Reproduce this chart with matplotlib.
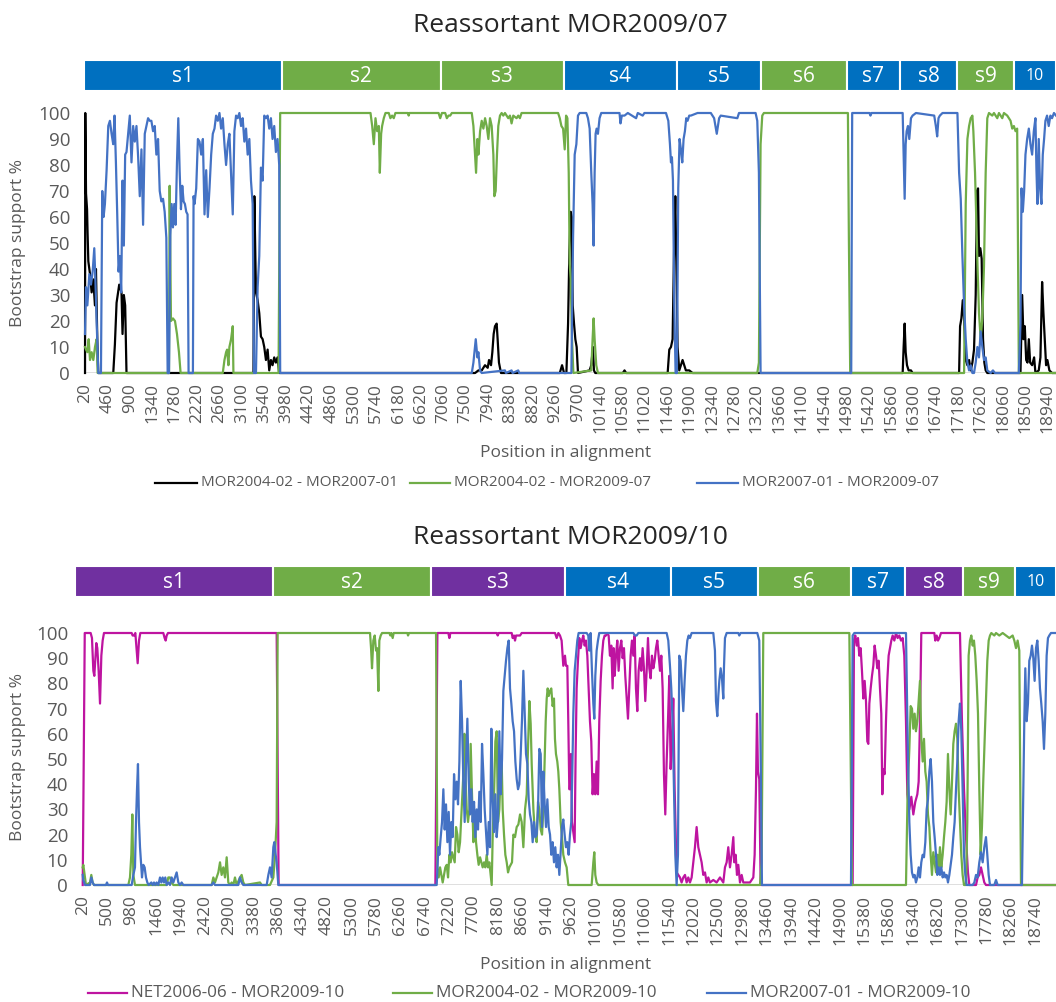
import matplotlib
matplotlib.use("Agg")
import matplotlib.pyplot as plt
from matplotlib.patches import Rectangle
from matplotlib.lines import Line2D

plt.rcParams['font.family'] = ['Open Sans', 'DejaVu Sans']

# ---------------- data: chart 1 (Reassortant MOR2009/07) ----------------
top_title = "Reassortant MOR2009/07"
top_ticks = list(range(20, 19000, 440))
top_seg_edges = [0, 3895, 7006, 9433, 11645, 13308, 14991, 16028, 17163, 18279, 19100]
top_seg_labels = ['s1', 's2', 's3', 's4', 's5', 's6', 's7', 's8', 's9', '10']
top_seg_groups = ['B', 'G', 'G', 'B', 'B', 'G', 'B', 'B', 'G', 'B']
top_names = ['MOR2004-02 - MOR2007-01', 'MOR2004-02 - MOR2009-07', 'MOR2007-01 - MOR2009-07']

top_black = [(20,0),(25,100),(40,69),(60,63),(70,54),(85,43),(118,38),(150,31),(183,36),(215,26),(235,40),(261,13),(280,0),
 (575,0),(607,11),(640,27),(692,34),(737,31),(757,15),(783,30),(809,26),(835,0),
 (3330,0),(3347,68),(3379,31),(3412,28),(3444,23),(3477,14),(3510,13),(3542,10),(3575,5),(3608,9),(3640,1),(3673,5),(3705,3),(3738,6),(3771,4),(3803,6),(3836,0),
 (7685,0),(7750,1),(7815,1),(7880,3),(7933,2),(7959,5),(7998,3),(8024,8),(8050,15),(8076,18),(8109,19),(8128,13),(8154,4),(8194,0),
 (9349,0),(9394,3),(9433,0),(9479,0),(9512,19),(9538,47),(9564,62),(9583,60),(9603,26),(9629,19),(9655,13),(9681,10),(9707,0),
 (9936,1),(9968,3),(10001,10),(10020,1),(10047,0),(10588,0),(10621,1),(10653,0),
 (11469,0),(11501,9),(11534,10),(11566,13),(11599,52),(11619,68),(11638,45),(11664,10),(11697,1),(11730,3),(11762,5),(11795,3),(11827,1),(11893,1),(11958,0),
 (16087,0),(16106,10),(16126,19),(16146,8),(16172,3),(16204,1),(16250,1),(16282,0),
 (17196,0),(17215,18),(17241,21),(17268,28),(17294,21),(17326,5),(17359,3),(17392,5),(17424,1),(17457,4),(17489,9),(17522,30),(17548,70),(17568,71),(17587,45),(17613,48),(17639,44),(17666,13),(17692,4),(17718,1),(17750,0),
 (18402,0),(18435,30),(18461,13),(18487,18),(18514,5),(18540,4),(18566,13),(18592,4),(18631,3),(18670,6),(18696,0),(18761,1),(18794,6),(18827,35),(18853,23),(18879,13),(18905,3),(18931,5),(18970,1),(19022,0),(19100,0)]

top_green = [(20,10),(40,9),(66,8),(92,13),(118,5),(150,8),(183,5),(216,10),(248,13),(268,0),
 (1670,0),(1683,72),(1709,20),(1748,21),(1788,20),(1827,15),(1866,8),(1898,0),
 (2727,0),(2760,5),(2792,8),(2812,9),(2838,3),(2857,10),(2890,13),(2923,18),(2936,0),
 (3823,0),(3855,100),(5630,100),(5663,95),(5695,88),(5728,98),(5760,93),(5793,95),(5813,77),(5839,92),(5858,95),(5891,98),(5924,100),(5989,100),(6021,98),(6054,99),(6087,98),(6119,100),(6367,100),(6380,99),(6393,100),(6967,100),(7000,98),(7033,100),(7098,100),(7130,98),(7163,99),(7196,99),(7228,100),
 (7620,100),(7652,95),(7685,84),(7704,77),(7730,90),(7750,84),(7783,93),(7815,97),(7848,94),(7881,98),(7913,95),(7946,90),(7978,98),(8011,95),(8044,84),(8063,68),(8089,70),(8115,84),(8141,95),(8174,99),(8207,100),(8239,99),(8272,100),(8337,98),(8370,99),(8402,96),(8435,99),(8500,98),(8533,99),(8565,98),(8598,100),
 (9316,100),(9349,98),(9381,95),(9414,94),(9446,86),(9473,99),(9499,98),(9525,77),(9544,42),(9564,36),(9590,13),(9616,0),
 (9968,1),(9994,13),(10014,21),(10034,13),(10066,3),(10099,0),
 (13230,0),(13262,4),(13295,88),(13328,99),(13360,100),
 (15011,100),(15030,52),(15056,0),
 (17294,0),(17326,65),(17359,90),(17392,95),(17424,98),(17457,99),(17476,93),(17509,77),(17535,58),(17561,39),(17587,23),(17620,13),(17652,21),(17685,41),(17718,77),(17750,98),(17783,100),(17848,99),(17881,100),(17946,98),(17979,100),(18044,98),(18077,100),(18142,99),(18207,97),(18240,94),(18272,95),(18305,93),(18337,94),(18370,0),(19100,0)]

top_blue = [(20,15),(39,33),(66,26),(105,38),(137,34),(170,39),(202,48),(222,37),(248,20),(281,0),(333,0),(359,70),(385,60),(411,65),(444,78),(477,95),(509,97),(542,92),(574,88),(600,99),(627,81),(653,61),(679,39),(705,45),(731,31),(757,74),(783,49),(809,84),(835,85),(868,92),(900,99),(933,81),(966,95),(998,89),(1031,95),(1064,83),(1096,68),(1129,86),(1161,57),(1194,92),(1227,95),(1259,98),(1292,97),(1324,97),(1357,93),(1390,95),(1422,84),(1455,90),(1488,70),(1520,66),(1553,67),(1585,62),(1618,52),(1644,0),(1670,0),(1696,53),(1722,65),(1748,56),(1774,65),(1800,57),(1827,81),(1853,98),(1879,78),(1905,63),(1931,72),(1957,66),(1983,65),(2009,62),(2035,61),(2055,0),(2140,0),(2153,68),(2172,65),(2205,71),(2238,90),(2270,89),(2303,84),(2336,90),(2368,61),(2401,78),(2433,60),(2466,71),(2499,84),(2531,92),(2564,94),(2596,99),(2629,97),(2662,100),(2694,94),(2727,98),(2760,88),(2792,80),(2825,88),(2857,92),(2890,76),(2923,61),(2955,93),(2988,99),(3020,98),(3053,100),(3086,95),(3118,98),(3151,89),(3184,94),(3216,84),(3249,90),(3281,74),(3314,65),(3340,0),(3379,0),(3412,33),(3444,45),(3477,79),(3510,74),(3542,99),(3575,98),(3608,99),(3640,94),(3673,98),(3705,90),(3738,95),(3771,85),(3803,90),(3836,80),(3855,0),
 (7620,0),(7652,4),(7698,13),(7730,6),(7750,8),(7783,1),(7815,0),(8272,1),(8291,0),(8402,1),(8422,0),(8533,1),(8552,0),
 (9577,0),(9610,52),(9642,84),(9675,88),(9707,99),(9740,100),(9870,100),(9903,98),(9936,94),(9968,77),(9994,65),(10014,49),(10034,77),(10053,92),(10073,94),(10099,92),(10131,98),(10164,100),(10523,100),(10542,96),(10568,99),(10621,99),(10686,100),(10849,98),(10882,100),(10979,99),(11012,100),(11436,100),(11482,97),(11514,88),(11534,81),(11553,83),(11573,74),(11599,26),(11625,0),(11651,0),(11677,71),(11703,90),(11730,86),(11756,81),(11782,90),(11808,93),(11834,98),(11860,97),(11893,99),(11925,99),(12056,100),(12317,100),(12382,98),(12434,92),(12480,98),(12512,99),(12838,98),(12871,100),(13197,100),(13230,97),(13262,77),(13295,0),
 (15076,0),(15095,100),(15435,100),(15454,99),(15474,100),(16087,100),(16106,84),(16126,67),(16146,88),(16165,93),(16191,95),(16217,90),(16250,98),(16282,99),(16348,100),(16707,99),(16739,95),(16765,91),(16791,98),(16818,99),(16870,100),(17163,100),(17196,77),(17228,67),(17261,45),(17294,26),(17326,13),(17359,4),(17392,1),(17424,3),(17457,0),(17489,0),(17522,4),(17555,10),(17587,6),(17620,16),(17652,10),(17685,5),(17718,6),(17750,1),(17816,0),(17861,1),(17900,0),
 (18370,0),(18402,19),(18422,71),(18448,62),(18474,70),(18500,84),(18533,90),(18566,94),(18598,88),(18631,84),(18664,93),(18696,98),(18716,78),(18735,65),(18761,90),(18787,71),(18814,65),(18840,84),(18866,90),(18892,97),(18924,99),(18957,95),(18990,99),(19022,98),(19060,100),(19100,99)]

# ---------------- data: chart 2 (Reassortant MOR2009/10) ----------------
bot_title = "Reassortant MOR2009/10"
bot_ticks = list(range(20, 19000, 480))
bot_seg_edges = [-131, 3767, 6864, 9499, 11576, 13282, 15117, 16184, 17326, 18334, 19146]
bot_seg_labels = ['s1', 's2', 's3', 's4', 's5', 's6', 's7', 's8', 's9', '10']
bot_seg_groups = ['P', 'G', 'P', 'B', 'B', 'G', 'B', 'P', 'G', 'B']
bot_names = ['NET2006-06 - MOR2009-10', 'MOR2004-02 - MOR2009-10', 'MOR2007-01 - MOR2009-10']

bot_pink = [(20,0),(40,50),(60,100),(176,100),(202,98),(229,85),(248,83),(268,90),(287,96),(307,94),(333,85),(360,72),(386,91),(412,97),(438,100),(982,100),(1001,99),(1028,99),(1054,100),(1080,93),(1100,88),(1126,97),(1152,100),(1604,100),(1630,98),(1650,97),(1670,99),(1696,100),(3831,100),(3870,0),
 (6950,0),(6990,100),(7205,100),(7225,98),(7245,100),(8155,100),(8175,99),(8194,100),(8450,100),(8469,98),(8496,99),(8515,97),(8535,99),(8581,99),(8614,99),(8646,100),(9301,100),(9334,98),(9367,100),
 (9399,99),(9431,97),(9464,87),(9497,91),(9516,87),(9543,87),(9562,65),(9582,38),(9595,38),(9615,52),(9634,25),(9661,21),(9687,17),(9706,52),(9726,78),(9752,89),(9778,98),(9805,94),(9831,97),(9857,99),(9883,95),(9909,97),(9936,91),(9962,78),(9988,65),(10014,57),(10040,36),(10067,44),(10093,36),(10119,49),(10145,36),(10171,65),(10198,81),(10224,91),(10250,97),(10276,99),(10302,99),(10329,100),(10355,99),(10381,91),(10407,95),(10433,78),(10453,94),(10473,83),(10499,91),(10525,97),(10551,85),(10578,94),(10604,97),(10630,90),(10656,94),(10682,83),(10709,74),(10735,66),(10761,78),(10787,91),(10813,97),(10840,91),(10866,99),(10892,78),(10918,69),(10944,85),(10971,90),(10997,85),(11023,94),(11049,86),(11075,73),(11102,85),(11128,98),(11154,86),(11180,82),(11206,91),(11233,86),(11259,89),(11285,94),(11311,97),(11337,91),(11364,85),(11390,91),(11416,78),(11442,44),(11468,28),(11495,49),(11521,65),(11547,83),(11573,46),(11599,56),(11625,74),(11652,38),(11691,5),(11724,4),(11757,3),(11789,1),(11822,3),(11855,4),(11888,1),(11920,3),(11953,1),(11986,3),(12019,9),(12051,15),(12084,23),(12117,15),(12150,12),(12182,9),(12215,4),(12248,5),(12281,1),(12313,3),(12346,1),(12412,2),(12477,1),(12543,3),(12608,1),(12641,7),(12674,9),(12706,15),(12739,7),(12772,12),(12805,19),(12824,9),(12851,12),(12877,4),(12903,8),(12936,1),(12969,4),(13001,1),(13067,1),(13132,1),(13198,3),(13224,12),(13250,38),(13270,68),(13289,45),(13315,42),(13342,0),
 (15150,0),(15176,97),(15202,99),(15229,95),(15255,98),(15281,91),(15307,94),(15333,85),(15360,74),(15386,81),(15412,73),(15438,57),(15458,56),(15478,72),(15504,78),(15530,83),(15556,87),(15582,95),(15609,91),(15635,86),(15661,89),(15687,78),(15713,68),(15733,36),(15753,46),(15779,44),(15805,65),(15831,81),(15857,91),(15884,94),(15910,97),(15936,99),(15969,97),(16002,100),(16034,98),(16067,99),(16100,97),(16133,98),(16165,91),(16198,65),(16224,36),(16264,30),(16303,35),(16342,28),(16381,33),(16421,36),(16447,41),(16473,65),(16499,100),(16755,100),(16774,97),(16801,99),(16827,97),(16853,98),(16886,100),(17259,100),(17298,65),(17338,38),(17377,19),(17416,5),(17443,0),(17574,0),(17606,3),(17639,4),(17672,7),(17705,4),(17737,1),(17770,0),(19146,0)]

bot_green = [(20,7),(32,8),(58,4),(84,0),(163,1),(189,4),(215,1),(242,0),(916,0),(949,3),(975,12),(995,28),(1015,4),(1047,0),(1670,0),(1702,3),(1735,3),(1768,1),(1801,0),(2554,0),(2587,3),(2619,1),(2652,3),(2685,5),(2718,9),(2750,4),(2783,7),(2816,3),(2849,11),(2881,1),(2914,0),(2947,1),(2980,0),(3012,3),(3045,0),(3111,3),(3143,4),(3176,1),(3209,0),(3504,1),(3537,0),(3700,0),(3766,3),(3799,12),(3831,25),(3851,100),
 (5666,100),(5686,94),(5705,86),(5731,97),(5758,99),(5784,93),(5804,94),(5830,77),(5849,97),(5876,99),(5902,100),(6046,100),(6066,99),(6085,100),(6111,98),(6131,100),(6400,100),(6413,99),(6432,100),(6963,100),
 (6989,7),(7015,3),(7042,7),(7068,4),(7094,1),(7120,4),(7146,7),(7173,8),(7199,3),(7225,12),(7251,9),(7277,13),(7304,11),(7330,9),(7356,23),(7382,20),(7408,13),(7435,17),(7467,30),(7500,44),(7520,60),(7539,45),(7566,30),(7592,25),(7618,30),(7644,56),(7670,36),(7697,17),(7723,28),(7749,17),(7775,12),(7801,8),(7828,11),(7854,9),(7880,7),(7906,9),(7932,7),(7959,12),(7985,7),(8011,9),(8037,4),(8057,0),(8076,19),(8103,36),(8129,57),(8155,61),(8181,25),(8207,30),(8234,45),(8253,49),(8273,30),(8299,20),(8325,12),(8352,9),(8378,5),(8404,7),(8430,8),(8456,9),(8483,20),(8515,19),(8548,23),(8581,24),(8614,28),(8646,25),(8679,15),(8712,30),(8745,36),(8777,58),(8797,73),(8823,64),(8843,48),(8876,30),(8908,20),(8941,17),(8967,33),(8993,30),(9020,22),(9046,20),(9072,30),(9098,49),(9118,65),(9138,74),(9157,78),(9177,75),(9203,77),(9228,78),(9254,71),(9281,74),(9300,58),(9320,52),(9346,49),(9366,45),(9386,38),(9412,25),(9438,19),(9464,12),(9497,9),(9530,7),(9562,0),
 (10021,0),(10054,9),(10073,13),(10093,4),(10119,1),(10152,0),(13329,0),(13361,9),(13394,100),(15085,100),(15137,0),
 (16198,0),(16231,38),(16264,54),(16290,71),(16316,70),(16342,62),(16368,68),(16394,61),(16421,65),(16447,73),(16473,81),(16499,58),(16526,49),(16552,58),(16578,45),(16604,41),(16630,28),(16657,23),(16683,12),(16709,4),(16735,13),(16761,9),(16788,5),(16814,12),(16840,7),(16866,15),(16892,7),(16919,12),(16945,19),(16971,25),(16997,33),(17023,52),(17050,38),(17076,28),(17102,41),(17128,56),(17154,61),(17181,64),(17207,58),(17233,38),(17259,25),(17285,12),(17311,4),(17338,0),(17377,0),(17403,25),(17429,91),(17456,97),(17482,99),(17508,95),(17534,97),(17560,91),(17587,81),(17613,68),(17639,38),(17665,12),(17691,23),(17718,42),(17744,58),(17770,75),(17796,89),(17823,97),(17849,99),(17875,100),(17934,99),(17967,100),(18032,99),(18098,100),(18163,99),(18229,98),(18294,99),(18327,97),(18360,94),(18392,97),(18425,93),(18458,0),(19146,0)]

bot_blue = [(20,4),(32,2),(65,0),(163,0),(189,3),(215,1),(242,0),(477,0),(497,1),(517,0),(982,0),(1015,4),(1047,7),(1067,25),(1087,38),(1106,48),(1126,25),(1146,15),(1165,9),(1185,3),(1211,8),(1237,7),(1263,3),(1290,1),(1316,0),(1368,1),(1394,0),(1421,1),(1447,0),(1473,1),(1506,0),(1539,3),(1565,1),(1591,3),(1617,1),(1643,3),(1670,0),(1702,1),(1735,0),(1768,3),(1801,1),(1833,3),(1866,5),(1899,1),(1932,0),(1964,1),(1997,0),(2554,0),(2587,1),(2619,0),(3078,0),(3111,3),(3143,1),(3176,0),(3635,0),(3668,4),(3700,7),(3733,3),(3766,15),(3785,17),(3812,12),(3831,9),(3864,0),
 (6976,0),(7009,15),(7028,12),(7055,19),(7081,25),(7107,38),(7133,22),(7159,32),(7186,17),(7212,29),(7238,12),(7264,25),(7290,19),(7317,44),(7343,34),(7369,41),(7395,32),(7422,49),(7448,81),(7474,65),(7500,41),(7526,25),(7552,48),(7579,66),(7605,42),(7631,28),(7657,38),(7683,25),(7710,33),(7736,19),(7762,30),(7788,22),(7814,37),(7841,25),(7867,56),(7893,44),(7919,30),(7945,21),(7972,12),(7998,25),(8024,15),(8050,62),(8076,34),(8103,21),(8129,36),(8155,19),(8181,26),(8207,61),(8234,36),(8260,50),(8286,77),(8312,83),(8338,89),(8365,94),(8391,97),(8417,78),(8443,72),(8469,65),(8496,61),(8522,49),(8548,42),(8574,38),(8600,40),(8627,52),(8653,66),(8679,85),(8705,68),(8731,52),(8758,48),(8784,34),(8810,28),(8836,25),(8862,17),(8889,25),(8915,19),(8941,20),(8967,30),(8993,54),(9020,52),(9046,23),(9072,45),(9098,32),(9124,23),(9151,34),(9177,23),(9203,20),(9228,12),(9254,17),(9281,9),(9307,15),(9333,7),(9359,12),(9386,4),(9412,13),(9438,23),(9464,26),(9490,20),(9516,15),(9543,17),(9569,12),(9595,20),(9621,25),(9641,45),(9661,68),(9687,85),(9713,91),(9739,97),(9765,100),(9923,100),(9955,99),(9975,93),(10001,100),(10027,85),(10054,72),(10073,66),(10093,83),(10119,93),(10145,97),(10171,100),(10840,100),(10873,99),(10905,99),(10938,100),(11495,100),(11527,97),(11560,87),(11586,78),(11612,65),(11639,38),(11665,12),(11691,0),(11717,12),(11743,91),(11770,89),(11796,78),(11822,69),(11848,81),(11874,91),(11901,97),(11927,99),(11953,98),(11986,100),(12412,100),(12444,93),(12464,73),(12490,67),(12510,75),(12530,81),(12556,86),(12582,82),(12608,74),(12621,86),(12641,98),(12674,100),(12903,100),(12922,99),(12949,100),(13276,100),(13315,97),(13342,52),(13368,0),
 (15117,0),(15150,99),(15183,100),(16198,100),(16231,58),(16264,25),(16290,12),(16316,5),(16342,3),(16368,4),(16394,1),(16421,3),(16447,7),(16473,3),(16499,9),(16526,12),(16552,11),(16578,17),(16604,30),(16630,34),(16657,45),(16683,50),(16709,41),(16735,25),(16761,19),(16788,12),(16814,4),(16840,7),(16866,4),(16892,7),(16919,3),(16945,5),(16971,3),(16997,4),(17023,1),(17050,4),(17076,8),(17102,12),(17128,19),(17154,25),(17181,38),(17207,49),(17233,65),(17259,72),(17285,61),(17311,38),(17338,12),(17364,4),(17390,0),(17508,0),(17541,1),(17574,4),(17606,3),(17639,9),(17672,13),(17705,9),(17737,15),(17770,19),(17796,12),(17823,4),(17849,0),(17934,0),(17967,2),(17999,0),(18477,0),(18503,38),(18523,65),(18543,86),(18569,65),(18595,72),(18621,89),(18648,91),(18674,95),(18700,90),(18726,81),(18753,94),(18779,97),(18805,89),(18831,78),(18857,72),(18884,65),(18910,54),(18936,68),(18962,91),(18988,98),(19014,99),(19047,100),(19146,100)]

# ---------------- styling ----------------
W, H = 1056, 1002
SEG_COL = {'B': '#0070C0', 'G': '#70AD47', 'P': '#7030A0'}
C_BLACK, C_GREEN, C_BLUE, C_PINK = '#000000', '#70AD47', '#4472C4', '#BE14A0'
TXT = '#595959'

fig = plt.figure(figsize=(W / 100, H / 100), dpi=100)


def px_axes(l, t, r, b):
    return fig.add_axes([l / W, 1 - b / H, (r - l) / W, (b - t) / H])


def draw_chart(ax, xlim, ticks, series):
    ax.set_xlim(*xlim)
    ax.set_ylim(0, 100)
    ax.axhline(0, color='#D9D9D9', lw=1.2, zorder=0)
    for pts, col in series:
        xs = [p[0] for p in pts]
        ys = [p[1] for p in pts]
        ax.plot(xs, ys, color=col, lw=1.6, clip_on=False, solid_joinstyle='round')
    for s in ax.spines.values():
        s.set_visible(False)
    ax.set_yticks(range(0, 101, 10))
    ax.tick_params(axis='y', length=0, pad=10, labelsize=13.5, labelcolor=TXT)
    ax.set_xticks(ticks)
    ax.set_xticklabels([str(t) for t in ticks], rotation=90)
    ax.tick_params(axis='x', length=0, pad=7, labelsize=12.5, labelcolor=TXT)


def draw_segments(ax, xlim, edges, groups, labels):
    ax.set_xlim(*xlim)
    ax.set_ylim(0, 1)
    ax.axis('off')
    for i, lab in enumerate(labels):
        ax.add_patch(Rectangle((edges[i], 0), edges[i + 1] - edges[i], 1,
                               facecolor=SEG_COL[groups[i]], edgecolor='white', lw=1.5))
        ax.text((edges[i] + edges[i + 1]) / 2, 0.48, lab, ha='center', va='center',
                color='white', fontsize=15 if lab.startswith('s') else 11.5)


def legend_row(y, items, size):
    for (x0, x1, tx, col, name) in items:
        fig.add_artist(Line2D([x0 / W, x1 / W], [1 - y / H, 1 - y / H], color=col, lw=1.6))
        fig.text(tx / W, 1 - y / H, name, ha='left', va='center', fontsize=size, color=TXT)


# chart 1
fig.text(570 / W, 1 - 25 / H, top_title, ha='center', va='center', fontsize=19, color='#262626')
seg1 = px_axes(84, 60, 1056, 91)
draw_segments(seg1, (0, 19100), top_seg_edges, top_seg_groups, top_seg_labels)
ax1 = px_axes(84, 113, 1056, 373)
draw_chart(ax1, (0, 19100), top_ticks, [(top_black, C_BLACK), (top_green, C_GREEN), (top_blue, C_BLUE)])
fig.text(566 / W, 1 - 453 / H, 'Position in alignment', ha='center', va='center', fontsize=12.5, color=TXT)
fig.text(18 / W, 1 - 243 / H, 'Bootstrap support %', ha='center', va='center', rotation=90, fontsize=12.5, color=TXT)
legend_row(483, [(155, 197, 201, C_BLACK, top_names[0]),
                 (410, 450, 454, C_GREEN, top_names[1]),
                 (697, 738, 742, C_BLUE, top_names[2])], 11)

# chart 2
fig.text(570 / W, 1 - 537 / H, bot_title, ha='center', va='center', fontsize=19, color='#262626')
seg2 = px_axes(75, 566, 1056, 597)
draw_segments(seg2, (-131, 19146), bot_seg_edges, bot_seg_groups, bot_seg_labels)
ax2 = px_axes(82, 633, 1056, 885)
draw_chart(ax2, (6, 19146), bot_ticks, [(bot_pink, C_PINK), (bot_green, C_GREEN), (bot_blue, C_BLUE)])
fig.text(566 / W, 1 - 965 / H, 'Position in alignment', ha='center', va='center', fontsize=12.5, color=TXT)
fig.text(18 / W, 1 - 757 / H, 'Bootstrap support %', ha='center', va='center', rotation=90, fontsize=12.5, color=TXT)
legend_row(993, [(88, 127, 131, C_PINK, bot_names[0]),
                 (393, 432, 436, C_GREEN, bot_names[1]),
                 (707, 746, 750, C_BLUE, bot_names[2])], 12.3)

fig.savefig('out.png', dpi=100)
